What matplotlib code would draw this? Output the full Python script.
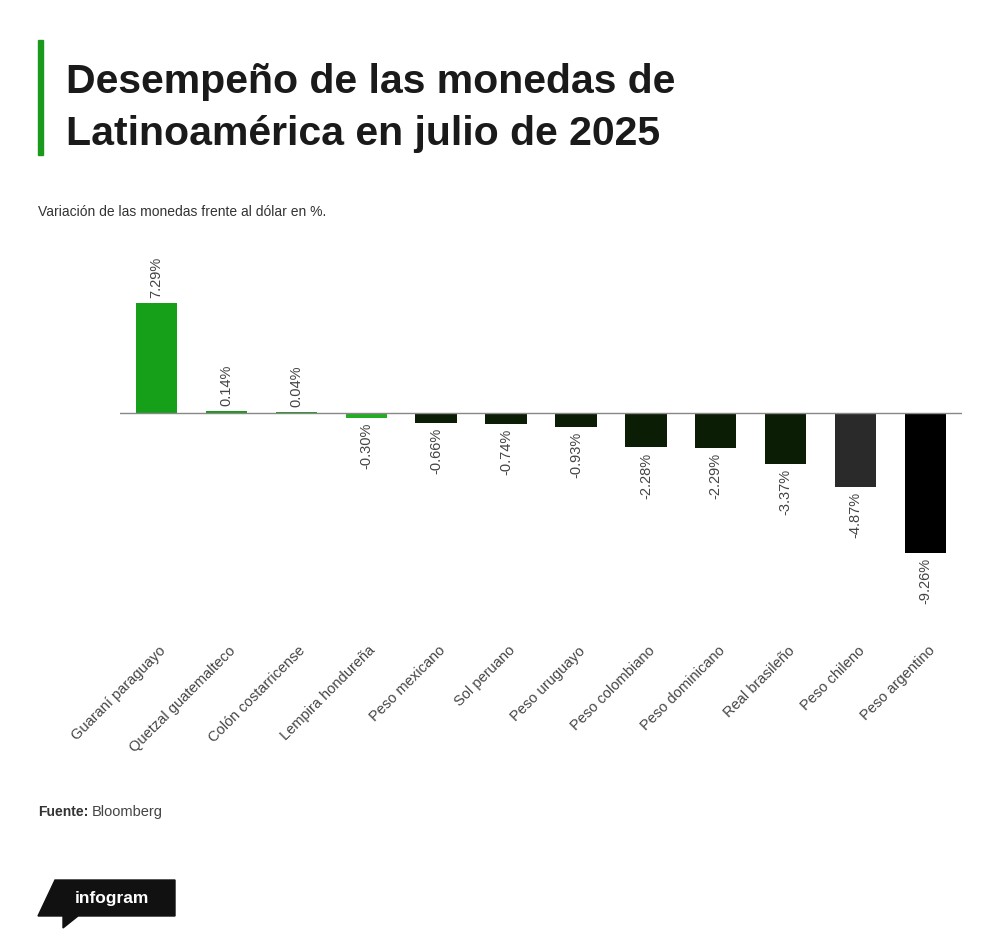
import matplotlib.pyplot as plt
from matplotlib.patches import Polygon, Rectangle
import matplotlib.transforms as mtransforms

# --- DATOS ---
monedas = ['Guaraní paraguayo', 'Quetzal guatemalteco', 'Colón costarricense',
           'Lempira hondureña', 'Peso mexicano', 'Sol peruano', 'Peso uruguayo',
           'Peso colombiano', 'Peso dominicano', 'Real brasileño', 'Peso chileno',
           'Peso argentino']
variacion = [7.29, 0.14, 0.04, -0.30, -0.66, -0.74, -0.93, -2.28, -2.29, -3.37, -4.87, -9.26]
etiquetas = ['7.29%', '0.14%', '0.04%', '-0.30%', '-0.66%', '-0.74%', '-0.93%',
             '-2.28%', '-2.29%', '-3.37%', '-4.87%', '-9.26%']
colores = ['#16a01a', '#1a9a1c', '#1f9a20', '#22ad25', '#0c1d06', '#0c1d06', '#0c1d06',
           '#0c1d06', '#0c1d06', '#0c1d06', '#2a2a2a', '#000000']

W, H = 1000, 948
fig = plt.figure(figsize=(W / 100, H / 100), dpi=100)
fig.patch.set_facecolor('white')
plt.rcParams['font.family'] = ['Liberation Sans', 'DejaVu Sans']

def px(x, y):
    return x / W, 1 - y / H

# eje: x de 120 a 962 px, y de 262 a 620 px; cero en y=413
escala = 15.1
ax_top, ax_bot = 262, 620
ax = fig.add_axes([120 / W, 1 - ax_bot / H, (962 - 120) / W, (ax_bot - ax_top) / H])
ax.set_ylim(-(ax_bot - 413) / escala, (413 - ax_top) / escala)
ax.set_xlim(-0.52, len(monedas) - 0.48)

x = range(len(monedas))
ax.bar(x, variacion, width=0.59, color=colores)
ax.axhline(0, color='#888888', lw=1)

for i, (v, t) in enumerate(zip(variacion, etiquetas)):
    off = 5 if v >= 0 else -5
    ax.annotate(t, (i, v), xytext=(0, off), textcoords='offset pixels',
                rotation=90, ha='center', va='bottom' if v >= 0 else 'top',
                fontsize=10.5, color='#444444', annotation_clip=False)

for s in ax.spines.values():
    s.set_visible(False)
ax.set_yticks([])
ax.set_xticks(list(x))
ax.set_xticklabels(monedas, rotation=45, ha='right', rotation_mode='anchor',
                   fontsize=10.5, color='#444444')
ax.tick_params(axis='x', length=0, pad=17)
# desplazar etiquetas un poco a la derecha del centro
off_tr = mtransforms.ScaledTranslation(2 / 100, 0, fig.dpi_scale_trans)
for lab in ax.get_xticklabels():
    lab.set_transform(lab.get_transform() + off_tr)

# --- TÍTULO ---
fig.patches.append(Rectangle(px(38, 155), 5 / W, 115 / H, transform=fig.transFigure,
                             color='#1a9a1c'))
fig.text(*px(66, 93), 'Desempeño de las monedas de', fontsize=29.5, fontweight='bold',
         color='#1a1a1a', va='baseline')
fig.text(*px(66, 145), 'Latinoamérica en julio de 2025', fontsize=29.5, fontweight='bold',
         color='#1a1a1a', va='baseline')
fig.text(*px(38, 216), 'Variación de las monedas frente al dólar en %.', fontsize=10,
         color='#333333', va='baseline')

# --- FUENTE ---
fig.text(*px(38, 816), 'Fuente:', fontsize=10, fontweight='bold', color='#333333',
         va='baseline')
fig.text(*px(92, 816), 'Bloomberg', fontsize=10.5, color='#444444', va='baseline')

# --- LOGO ---
logo = [(55, 880), (175, 880), (175, 916), (78, 916), (63, 928), (63, 916), (38, 916)]
fig.patches.append(Polygon([px(a, b) for a, b in logo], closed=True,
                           transform=fig.transFigure, color='#111111'))
fig.text(*px(112, 898), 'infogram', fontsize=12.5, fontweight='bold', color='white',
         ha='center', va='center')

fig.savefig('out.png', dpi=100)
